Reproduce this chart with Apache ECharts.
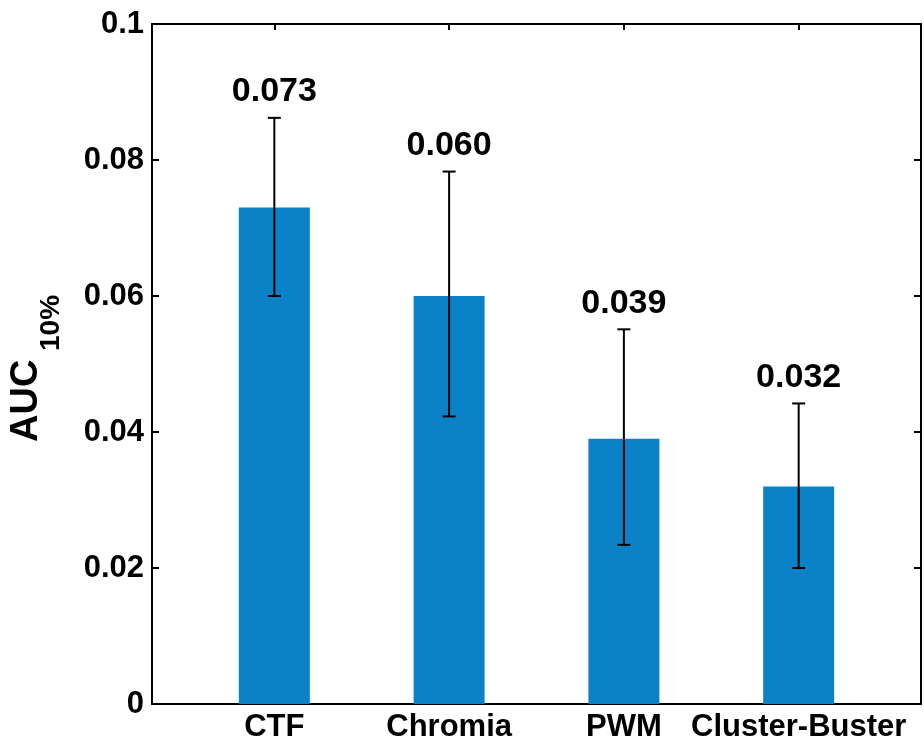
<!DOCTYPE html>
<html><head><meta charset="utf-8">
<script src="https://cdn.jsdelivr.net/npm/echarts@6/dist/echarts.min.js"></script>
<style>html,body{margin:0;padding:0;background:#fff}#c{width:924px;height:746px}</style>
</head><body><div id="c"></div>
<script>
const categories = ['CTF', 'Chromia', 'PWM', 'Cluster-Buster'];
const positions = [1, 2, 3, 4];
const means = [0.073, 0.060, 0.039, 0.032];
const errLow = [0.0600, 0.0423, 0.0234, 0.0200];
const errHigh = [0.0862, 0.0783, 0.0551, 0.0442];
const valueLabels = ['0.073', '0.060', '0.039', '0.032'];

const FONT = '"Liberation Sans", Arial, Helvetica, sans-serif';
const chart = echarts.init(document.getElementById('c'), null, {renderer: 'canvas'});

const barData = positions.map((p, i) => [p, means[i]]);
const errData = positions.map((p, i) => [p, errLow[i], errHigh[i], i]);

chart.setOption({
  animation: false,
  backgroundColor: '#fff',
  grid: {left: 152, top: 24, right: 3, bottom: 42, containLabel: false},
  xAxis: [
    {
      type: 'value', min: 0.3, max: 4.7, position: 'bottom',
      axisLine: {show: true, onZero: false, lineStyle: {color: '#000', width: 2}},
      axisTick: {show: false},
      splitLine: {show: false},
      axisLabel: {
        customValues: positions, margin: 8,
        formatter: v => categories[Math.round(v) - 1] || '',
        color: '#000', fontSize: 31, fontWeight: 'bold', fontFamily: FONT
      }
    },
    {
      type: 'value', min: 0.3, max: 4.7, position: 'top',
      axisLine: {show: true, onZero: false, lineStyle: {color: '#000', width: 2}},
      axisTick: {show: true, inside: true, length: 6, customValues: positions, lineStyle: {color: '#000', width: 2}},
      splitLine: {show: false},
      axisLabel: {show: false}
    }
  ],
  yAxis: [
    {
      type: 'value', min: 0, max: 0.1, interval: 0.02, position: 'left',
      axisLine: {show: true, lineStyle: {color: '#000', width: 2}},
      axisTick: {show: true, inside: true, length: 7, lineStyle: {color: '#000', width: 2}},
      splitLine: {show: false},
      axisLabel: {color: '#000', fontSize: 31, fontWeight: 'bold', fontFamily: FONT, margin: 8}
    },
    {
      type: 'value', min: 0, max: 0.1, interval: 0.02, position: 'right',
      axisLine: {show: true, lineStyle: {color: '#000', width: 2}},
      axisTick: {show: true, inside: true, length: 7, lineStyle: {color: '#000', width: 2}},
      splitLine: {show: false},
      axisLabel: {show: false}
    }
  ],
  series: [
    {
      type: 'bar', xAxisIndex: 0, yAxisIndex: 0,
      data: barData, barWidth: 71,
      itemStyle: {color: '#0b82c8'}, z: 2
    },
    {
      type: 'custom', xAxisIndex: 0, yAxisIndex: 0, z: 5,
      data: errData,
      encode: {x: 0, y: [1, 2]},
      renderItem: function (params, api) {
        const x = api.value(0);
        const lo = api.coord([x, api.value(1)]);
        const hi = api.coord([x, api.value(2)]);
        const idx = api.value(3);
        const cap = 6.5;
        const ls = {stroke: '#000', lineWidth: 2};
        return {
          type: 'group',
          children: [
            {type: 'line', shape: {x1: lo[0], y1: lo[1], x2: hi[0], y2: hi[1]}, style: ls},
            {type: 'line', shape: {x1: lo[0] - cap, y1: lo[1], x2: lo[0] + cap, y2: lo[1]}, style: ls},
            {type: 'line', shape: {x1: hi[0] - cap, y1: hi[1], x2: hi[0] + cap, y2: hi[1]}, style: ls},
            {type: 'text', style: {
              text: valueLabels[idx], x: hi[0], y: hi[1] - 26,
              align: 'center', verticalAlign: 'middle',
              font: 'bold 34px ' + FONT, fill: '#000'
            }}
          ]
        };
      }
    }
  ],
  graphic: [
    {
      type: 'group', x: 8, y: 442, rotation: Math.PI / 2,
      children: [
        {type: 'text', x: 0, y: 0, style: {text: 'AUC', font: 'bold 38px ' + FONT, fill: '#000', verticalAlign: 'top'}},
        {type: 'text', x: 91, y: 29, style: {text: '10%', font: 'bold 28px ' + FONT, fill: '#000', verticalAlign: 'top'}}
      ]
    }
  ]
});
</script>
</body></html>
